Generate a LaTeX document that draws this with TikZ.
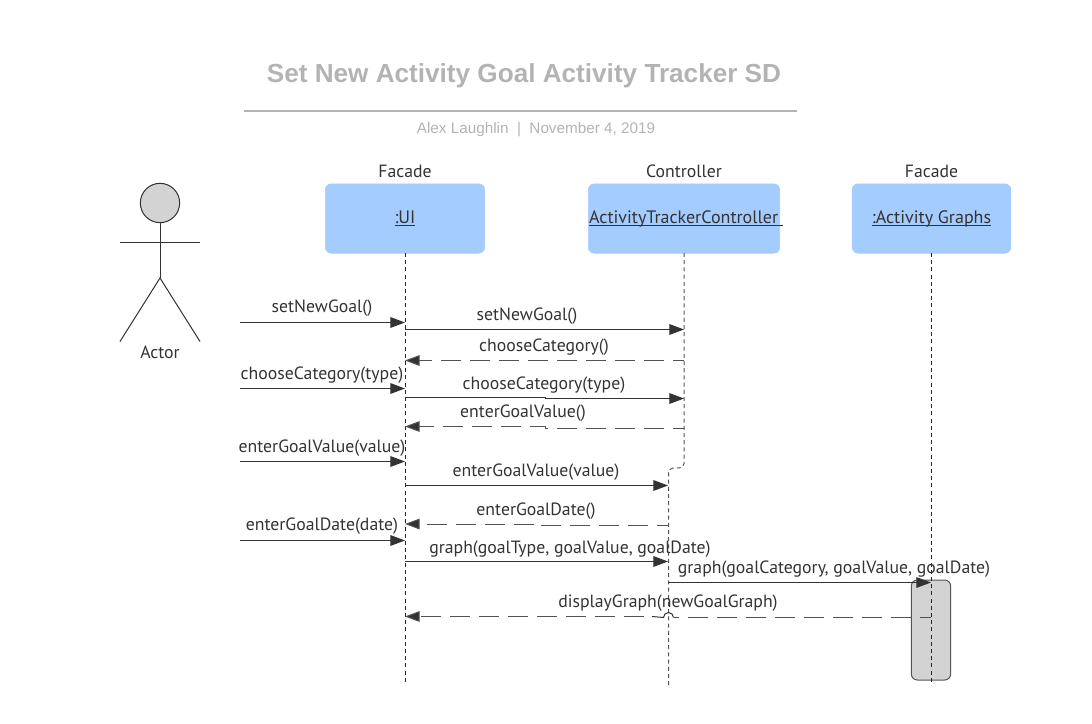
\documentclass[tikz,border=0pt]{standalone}
\usepackage{fontspec}
\setmainfont{PT Sans}
\newfontfamily\titlefont{Liberation Sans}
\usetikzlibrary{arrows.meta}
\definecolor{ink}{HTML}{333333}
\definecolor{titlegray}{HTML}{B3B3B3}
\definecolor{boxblue}{HTML}{A4CCFF}
\definecolor{actgray}{HTML}{D3D3D3}
\definecolor{dashgray}{HTML}{555555}
\newcommand\objname[1]{\underline{\smash{#1}}}
\tikzset{
  x=0.75pt,y=-0.75pt,
  lbl/.style={font=\fontsize{13.3pt}{15pt}\selectfont,text=ink,inner sep=0pt,anchor=center},
  objlbl/.style={font=\fontsize{13.5pt}{15pt}\selectfont,text=ink,inner sep=0pt,anchor=base},
  obj/.style={draw=boxblue,fill=boxblue,rounded corners=4.5pt,line width=0.5pt,inner sep=0pt},
  life/.style={draw=black!85,line width=0.75pt,dash pattern=on 3pt off 2.4pt},
  msg/.style={draw=ink,line width=0.75pt,-{Triangle[length=11pt,width=8pt,fill=ink]}},
  replyline/.style={draw=ink!85,line width=0.75pt,dash pattern=on 15pt off 6.75pt,dash phase=7pt},
  reply/.style={replyline,-{Triangle[length=11pt,width=8pt,fill=ink]}},
  stick/.style={draw=ink,line width=0.75pt},
}
\begin{document}
\begin{tikzpicture}
\useasboundingbox (0,0) rectangle (1092,724);
% title
\node[inner sep=0pt,text=titlegray,font=\titlefont\bfseries\fontsize{19.6pt}{22pt}\selectfont] (title) at (524,76) {Set New Activity Goal Activity Tracker SD};
\coordinate (ruleA) at (244,110.5);
\coordinate (ruleB) at (797,110.5);
\draw[draw=titlegray,line width=1.5pt] (ruleA) -- (ruleB);
\node[inner sep=0pt,text=titlegray,font=\titlefont\fontsize{11.45pt}{13pt}\selectfont] (subtitle) at (536,130) {Alex Laughlin~~|~~November 4, 2019};
% actor
\node[circle,draw=ink,fill=actgray,line width=0.75pt,minimum size=29.5pt,inner sep=0pt] (head) at (160,203) {};
\coordinate (hip) at (160,278);
\coordinate (armL) at (120,242.5);
\coordinate (armR) at (200,242.5);
\coordinate (footL) at (120,341.5);
\coordinate (footR) at (200,341.5);
\draw[stick] (head.south) -- (hip);
\draw[stick] (armL) -- (armR);
\draw[stick] (footL) -- (hip) -- (footR);
\node[lbl] (actorlbl) at (160,352) {Actor};
% objects
\node[obj,minimum width=119.5pt,minimum height=52pt] (ui) at (405,218.5) {};
\node[objlbl] (uilbl) at (405,223.3) {\objname{:UI}};
\node[obj,minimum width=143.5pt,minimum height=52pt] (ctl) at (684,218.5) {};
\node[objlbl] (ctllbl) at (686,223.3) {\objname{ActivityTrackerController }};
\node[obj,minimum width=119pt,minimum height=52pt] (gra) at (931.5,218.5) {};
\node[objlbl] (gralbl) at (931.5,223.3) {\objname{:Activity Graphs}};
\node[lbl] (st1) at (405,171) {Facade};
\node[lbl] (st2) at (684,171) {Controller};
\node[lbl] (st3) at (931.5,171) {Facade};
% activation
\node[draw=dashgray,fill=actgray,rounded corners=4.5pt,line width=0.75pt,minimum width=29.5pt,minimum height=75pt,inner sep=0pt] (act) at (931,630) {};
% free ends
\coordinate (uiEnd) at (405.5,685);
\coordinate (graEnd) at (931.5,685);
\coordinate (ctlEnd) at (668.5,685);
% lifelines
\draw[life] (405.5,253) -- (uiEnd);
\draw[life] (931.5,253) -- (graEnd);
\draw[life,draw=dashgray,rounded corners=3pt] (684,253) -- (684,467.5) -- (668.5,468.5) -- (ctlEnd);
% message anchors
\foreach \n/\y in {a/322.5,c/388.5,e/461.5,g/540.5}{\coordinate (s\n) at (240,\y); \coordinate (u\n) at (405,\y);}
\coordinate (u1) at (405,329.5); \coordinate (c1) at (684,329.5);
\coordinate (c2) at (684,360.5); \coordinate (u2) at (405,360.5);
\coordinate (u3) at (405,397.5); \coordinate (c3) at (684,398.5);
\coordinate (c4) at (684,428.5); \coordinate (u4) at (405,426.5);
\coordinate (u5) at (405,485.5); \coordinate (c5) at (668,485.5);
\coordinate (c6) at (668,525.5); \coordinate (u6) at (405,524);
\coordinate (u7) at (405,561.5); \coordinate (c7) at (668,561.5);
\coordinate (c8) at (668,582.5); \coordinate (g8) at (931,582.5);
\coordinate (g9) at (931,617.5); \coordinate (u9) at (405,616.5);
\coordinate (hopR) at (673.5,617.5); \coordinate (hopL) at (652,616.5);
% messages
\draw[msg] (sa) -- (ua);
\draw[msg] (u1) -- (c1);
\draw[reply] (c2) -- (u2);
\draw[msg] (sc) -- (uc);
\draw[msg] (u3) -- (545,397.5) -- (545,398.5) -- (c3);
\draw[reply] (c4) -- (545,428.5) -- (545,426.5) -- (u4);
\draw[msg] (se) -- (ue);
\draw[msg] (u5) -- (c5);
\draw[reply] (c6) -- (537,525.5) -- (537,524) -- (u6);
\draw[msg] (sg) -- (ug);
\draw[msg] (u7) -- (c7);
\draw[msg] (c8) -- (g8);
\draw[replyline] (g9) -- (hopR);
\draw[draw=ink,line width=0.75pt] (hopR) arc[start angle=0,end angle=-180,radius=5] -- (hopL);
\draw[reply,dash phase=0pt] (hopL) ++(-8,0) -- (u9);
% labels
\node[lbl] at (322,308.5) {setNewGoal()};
\node[lbl] at (527,316.5) {setNewGoal()};
\node[lbl] at (544,347) {chooseCategory()};
\node[lbl] at (322,375) {chooseCategory(type)};
\node[lbl] at (544,385) {chooseCategory(type)};
\node[lbl] at (523,413.5) {enterGoalValue()};
\node[lbl] at (322,448) {enterGoalValue(value)};
\node[lbl] at (536,472) {enterGoalValue(value)};
\node[lbl] at (536,511.5) {enterGoalDate()};
\node[lbl] at (322,526.5) {enterGoalDate(date)};
\node[lbl] at (570,549) {graph(goalType, goalValue, goalDate)};
\node[lbl] at (834,569) {graph(goalCategory, goalValue, goalDate)};
\node[lbl] at (668,603) {displayGraph(newGoalGraph)};
\end{tikzpicture}
\end{document}
